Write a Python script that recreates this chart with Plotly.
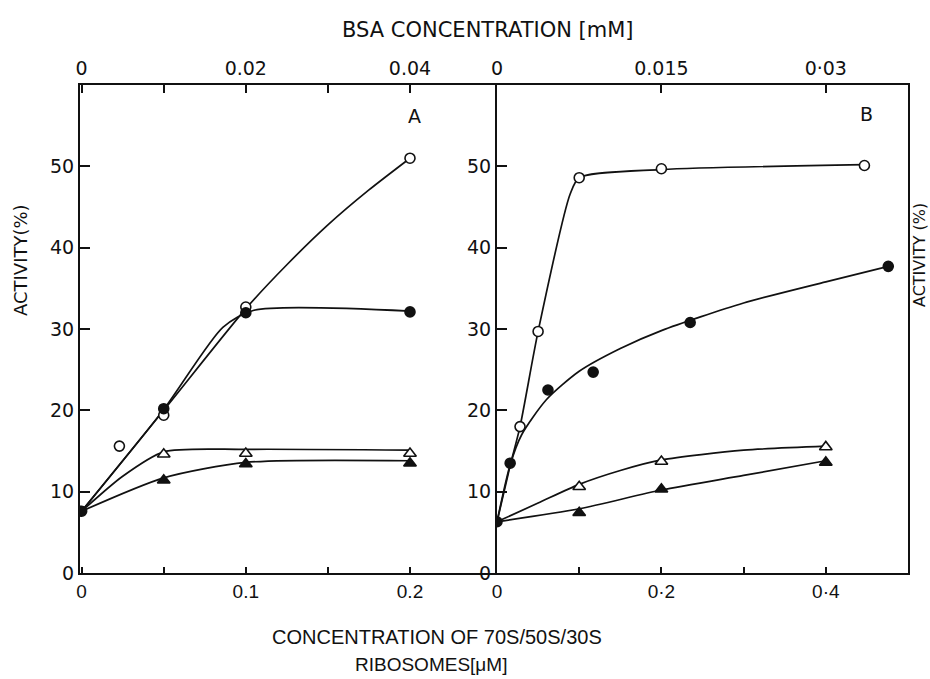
import plotly.graph_objects as go

# ---------------- data ----------------
# Panel A  (x: ribosome concentration, uM ; y: activity %)
A_origin_x = [0.0]
A_origin_y = [7.6]

A_open_circ_x = [0.023, 0.05, 0.1, 0.2]
A_open_circ_y = [15.6, 19.4, 32.7, 51.0]
A_fill_circ_x = [0.05, 0.1, 0.2]
A_fill_circ_y = [20.2, 32.0, 32.1]
A_open_tri_x = [0.05, 0.1, 0.2]
A_open_tri_y = [14.6, 14.7, 14.7]
A_fill_tri_x = [0.05, 0.1, 0.2]
A_fill_tri_y = [11.4, 13.4, 13.5]

# hand-drawn fit curves, panel A
A_fit_open_circ_x = [0.0, 0.05, 0.1, 0.125, 0.15, 0.175, 0.2]
A_fit_open_circ_y = [7.6, 20.0, 32.5, 37.9, 42.8, 47.1, 51.0]
A_fit_fill_circ_x = [0.0, 0.05, 0.086, 0.105, 0.2]
A_fit_fill_circ_y = [7.6, 20.1, 30.2, 32.3, 32.2]
A_fit_open_tri_x = [0.0, 0.025, 0.05, 0.1, 0.2]
A_fit_open_tri_y = [7.6, 11.9, 14.9, 15.2, 15.1]
A_fit_fill_tri_x = [0.0, 0.05, 0.1, 0.2]
A_fit_fill_tri_y = [7.6, 11.7, 13.6, 13.8]

# Panel B
B_origin_x = [0.0]
B_origin_y = [6.3]

B_open_circ_x = [0.028, 0.05, 0.1, 0.2, 0.447]
B_open_circ_y = [18.0, 29.7, 48.6, 49.7, 50.1]
B_fill_circ_x = [0.016, 0.062, 0.117, 0.235, 0.476]
B_fill_circ_y = [13.5, 22.5, 24.7, 30.8, 37.7]
B_open_tri_x = [0.1, 0.2, 0.4]
B_open_tri_y = [10.6, 13.7, 15.5]
B_fill_tri_x = [0.1, 0.2, 0.4]
B_fill_tri_y = [7.4, 10.3, 13.6]

# hand-drawn fit curves, panel B
B_fit_open_circ_x = [0.0, 0.016, 0.028, 0.05, 0.089, 0.1, 0.2, 0.447]
B_fit_open_circ_y = [6.3, 13.2, 18.0, 29.7, 46.6, 48.6, 49.6, 50.2]
B_fit_fill_circ_x = [0.0, 0.016, 0.03, 0.06, 0.1, 0.15, 0.2, 0.3, 0.4, 0.476]
B_fit_fill_circ_y = [6.3, 13.3, 17.0, 21.3, 24.8, 27.6, 29.8, 33.2, 35.8, 37.7]
B_fit_open_tri_x = [0.0, 0.05, 0.1, 0.15, 0.2, 0.3, 0.4]
B_fit_open_tri_y = [6.3, 8.6, 10.9, 12.6, 13.9, 15.1, 15.6]
B_fit_fill_tri_x = [0.0, 0.1, 0.2, 0.3, 0.4]
B_fit_fill_tri_y = [6.3, 7.9, 10.2, 12.0, 13.8]

# tick labels
A_bottom_ticks = [0, 0.05, 0.1, 0.15, 0.2]
A_bottom_text = ["0", "", "0.1", "", "0.2"]
B_bottom_ticks = [0, 0.1, 0.2, 0.3, 0.4]
B_bottom_text = ["0", "", "0·2", "", "0·4"]
A_top_ticks = [0, 0.01, 0.02, 0.03, 0.04]
A_top_text = ["0", "", "0.02", "", "0.04"]
B_top_ticks = [0, 0.015, 0.03]
B_top_text = ["0", "0.015", "0·03"]
y_ticks = [0, 10, 20, 30, 40, 50]
y_text = ["0", "10", "20", "30", "40", "50"]

# ---------------- figure ----------------
W, H = 930, 679
ML, MR, MT, MB = 80, 22, 85, 106
PW, PH = W - ML - MR, H - MT - MB
split = (497 - ML) / PW

FONT = "DejaVu Sans, sans-serif"
NARROW = "Liberation Sans, Arial, sans-serif"
BLACK = "#111111"

fig = go.Figure()


def line(x, y, xa, ya):
    fig.add_trace(go.Scatter(x=x, y=y, xaxis=xa, yaxis=ya, mode="lines",
                             line=dict(color=BLACK, width=1.7, shape="spline", smoothing=0.7),
                             hoverinfo="skip", showlegend=False))


def marks(x, y, xa, ya, symbol, filled):
    fig.add_trace(go.Scatter(x=x, y=y, xaxis=xa, yaxis=ya, mode="markers",
                             marker=dict(symbol=symbol, size=10 if "circle" in symbol else 11,
                                         color=BLACK if filled else "white",
                                         line=dict(color=BLACK, width=1.6)),
                             showlegend=False))


# panel A curves
line(A_fit_open_circ_x, A_fit_open_circ_y, "x", "y")
line(A_fit_fill_circ_x, A_fit_fill_circ_y, "x", "y")
line(A_fit_open_tri_x, A_fit_open_tri_y, "x", "y")
line(A_fit_fill_tri_x, A_fit_fill_tri_y, "x", "y")
marks(A_open_circ_x, A_open_circ_y, "x", "y", "circle", False)
marks(A_fill_circ_x, A_fill_circ_y, "x", "y", "circle", True)
marks(A_open_tri_x, A_open_tri_y, "x", "y", "triangle-up", False)
marks(A_fill_tri_x, A_fill_tri_y, "x", "y", "triangle-up", True)
marks(A_origin_x, A_origin_y, "x", "y", "circle", True)

# panel B curves
line(B_fit_open_circ_x, B_fit_open_circ_y, "x2", "y2")
line(B_fit_fill_circ_x, B_fit_fill_circ_y, "x2", "y2")
line(B_fit_open_tri_x, B_fit_open_tri_y, "x2", "y2")
line(B_fit_fill_tri_x, B_fit_fill_tri_y, "x2", "y2")
marks(B_open_circ_x, B_open_circ_y, "x2", "y2", "circle", False)
marks(B_fill_circ_x, B_fill_circ_y, "x2", "y2", "circle", True)
marks(B_open_tri_x, B_open_tri_y, "x2", "y2", "triangle-up", False)
marks(B_fill_tri_x, B_fill_tri_y, "x2", "y2", "triangle-up", True)
marks(B_origin_x, B_origin_y, "x2", "y2", "circle", True)

# empty traces to register the top (BSA) axes
fig.add_trace(go.Scatter(x=[], y=[], xaxis="x3", yaxis="y", showlegend=False))
fig.add_trace(go.Scatter(x=[], y=[], xaxis="x4", yaxis="y2", showlegend=False))

axcommon = dict(showgrid=False, zeroline=False, showline=True, linecolor=BLACK,
                linewidth=2, ticks="inside", tickcolor=BLACK, tickwidth=1.6)
tf = dict(family=FONT, size=19, color=BLACK)
tf_bottom = dict(family=NARROW, size=19, color=BLACK)

A_range = [-0.001, 0.253]
B_range = [0.0, 0.5]

fig.update_layout(
    width=W, height=H,
    margin=dict(l=ML, r=MR, t=MT, b=MB),
    paper_bgcolor="white", plot_bgcolor="white",
    xaxis=dict(domain=[0, split], range=A_range, anchor="y", tickfont=tf_bottom,
               tickvals=A_bottom_ticks, ticktext=A_bottom_text, ticklen=6, **axcommon),
    yaxis=dict(domain=[0, 1], range=[0, 60], anchor="x", tickfont=tf,
               tickvals=y_ticks, ticktext=y_text, ticklen=10, **axcommon),
    xaxis2=dict(domain=[split, 1], range=B_range, anchor="y2", tickfont=tf_bottom,
                tickvals=B_bottom_ticks, ticktext=B_bottom_text, ticklen=6, **axcommon),
    yaxis2=dict(domain=[0, 1], range=[0, 60], anchor="x2", mirror=True, tickfont=tf,
                tickvals=y_ticks, ticktext=y_text, ticklen=10, **axcommon),
    xaxis3=dict(overlaying="x", side="top", anchor="y", tickfont=tf,
                range=[A_range[0] * 0.2, A_range[1] * 0.2],
                tickvals=A_top_ticks, ticktext=A_top_text, ticklen=8, **axcommon),
    xaxis4=dict(overlaying="x2", side="top", anchor="y2", tickfont=tf,
                range=[B_range[0] * 0.075, B_range[1] * 0.075],
                tickvals=B_top_ticks, ticktext=B_top_text, ticklen=8, **axcommon),
)


def px_x(px):
    return (px - ML) / PW


def px_y(py):
    return (H - MB - py) / PH


def note(text, px, py, font, angle=0):
    fig.add_annotation(text=text, x=px_x(px), y=px_y(py), xref="paper", yref="paper",
                       xanchor="center", yanchor="middle", textangle=angle,
                       showarrow=False, font=font)


note("BSA CONCENTRATION [mM]", 488, 30, dict(family=FONT, size=21, color=BLACK))
note("CONCENTRATION OF 70S/50S/30S", 437, 637, dict(family=NARROW, size=20, color=BLACK))
note("RIBOSOMES[μM]", 431, 664, dict(family=NARROW, size=19, color=BLACK))
note("ACTIVITY(%)", 20, 260, dict(family=FONT, size=18, color=BLACK), -90)
note("ACTIVITY (%)", 919, 255, dict(family=FONT, size=16, color=BLACK), -90)

fig.add_annotation(text="A", x=0.203, y=56.2, xref="x", yref="y", showarrow=False,
                   font=dict(family=FONT, size=19, color=BLACK))
fig.add_annotation(text="B", x=0.45, y=56.4, xref="x2", yref="y2", showarrow=False,
                   font=dict(family=FONT, size=19, color=BLACK))

fig.write_html("out.html")
